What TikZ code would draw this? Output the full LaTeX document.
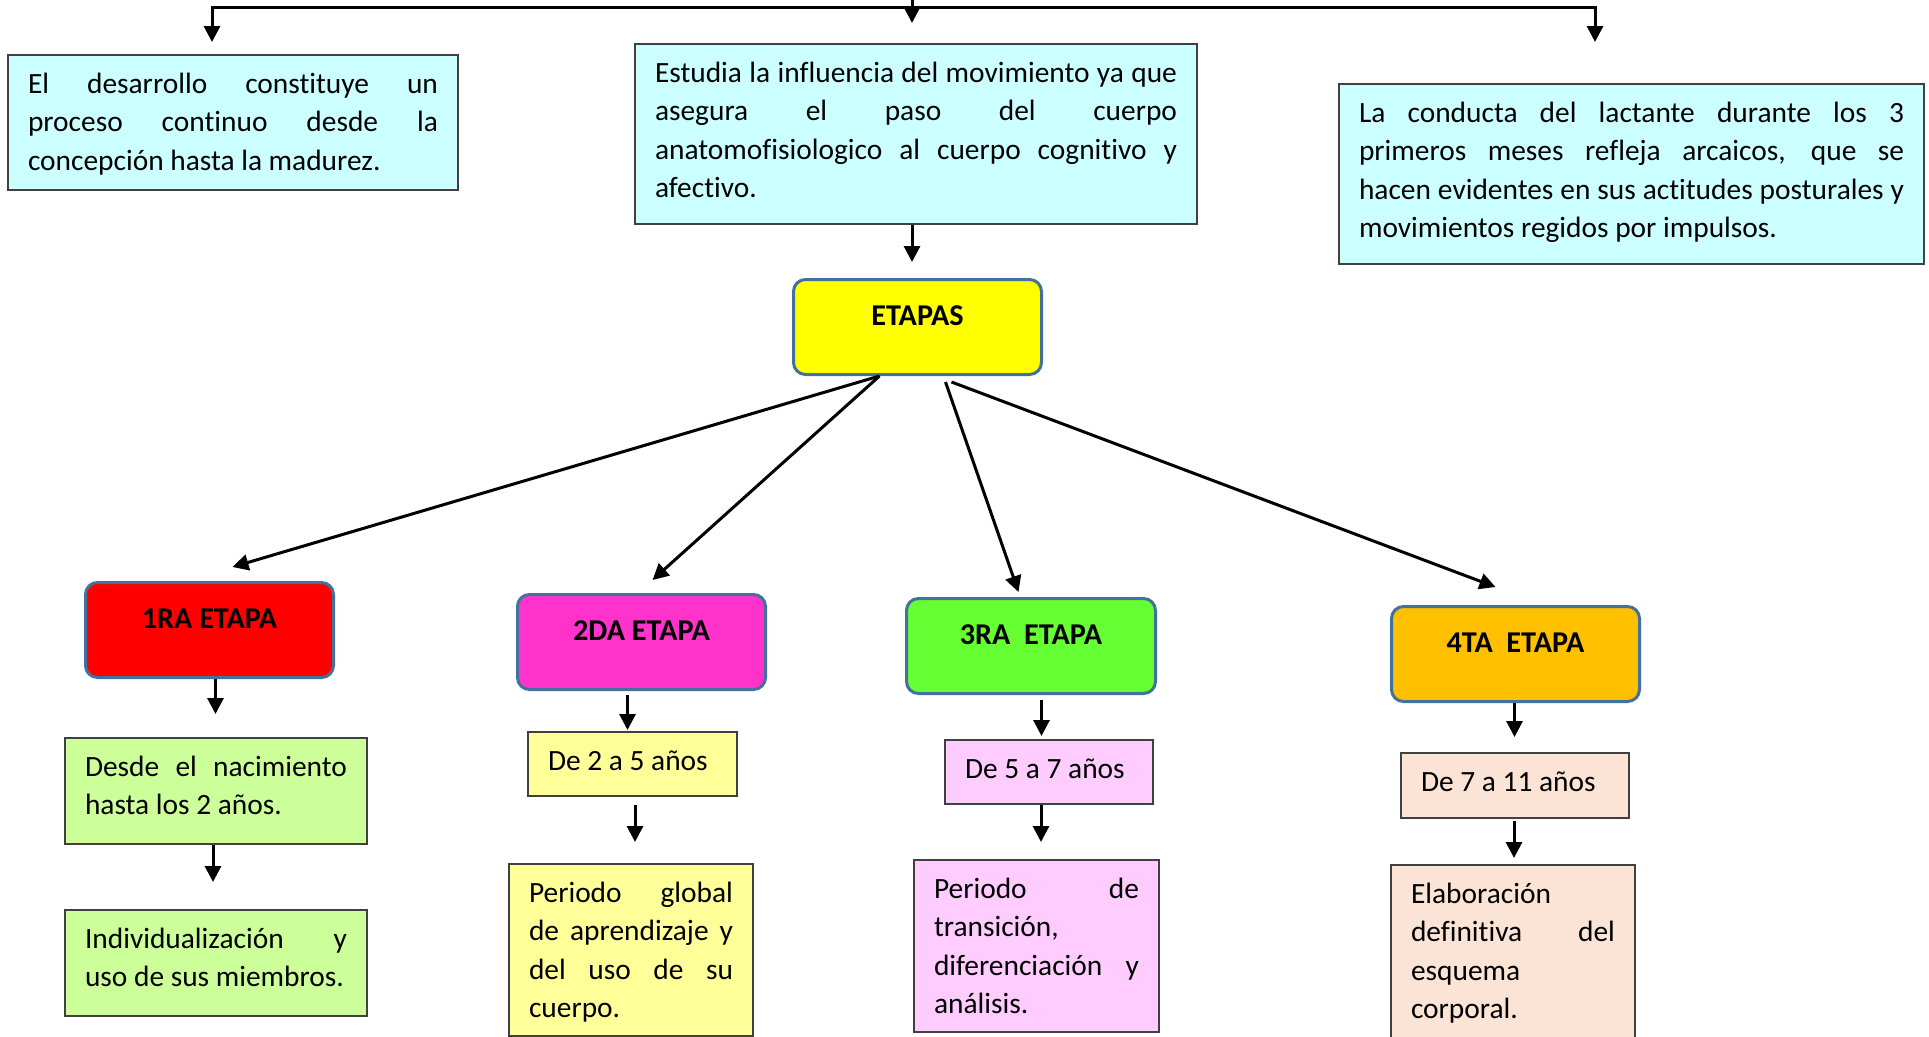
\documentclass[tikz,border=0pt]{standalone}
\usepackage{fontspec}
\setmainfont{Carlito}[Ligatures=NoCommon]
\usetikzlibrary{arrows.meta}
\definecolor{cyanbox}{HTML}{CCFFFF}
\definecolor{boxline}{HTML}{404040}
\definecolor{stageline}{HTML}{41719C}
\definecolor{etyellow}{HTML}{FFFF00}
\definecolor{s1red}{HTML}{FF0000}
\definecolor{s2mag}{HTML}{FF33CC}
\definecolor{s3green}{HTML}{66FF33}
\definecolor{s4orange}{HTML}{FFC000}
\definecolor{r1green}{HTML}{CCFF99}
\definecolor{r2yellow}{HTML}{FFFF99}
\definecolor{r3pink}{HTML}{FFCCFF}
\definecolor{r4peach}{HTML}{FBE4D5}
\newcommand\jl[1]{\makebox[\linewidth][s]{#1}\par}
\newcommand\bx[3]{\parbox[t][#2][t]{#1}{\rule{0pt}{38pt}#3}}
\newcommand\sx[2]{\parbox[t][95pt][t]{#1}{\centering\rule{0pt}{46pt}#2}}
\tikzset{
  conn/.style={line width=3pt, draw=black},
  arr/.style={conn, -{Triangle[length=16pt,width=16pt]}},
  txtbox/.style={draw=boxline, line width=2pt, inner xsep=20pt, inner ysep=0pt,
    anchor=north west, font=\fontsize{29.4}{38.5}\selectfont},
  stagebox/.style={draw=stageline, line width=3pt, rounded corners=12pt,
    inner xsep=20pt, inner ysep=0pt, anchor=north west,
    font=\fontsize{30.2}{38.5}\selectfont\bfseries},
}
\begin{document}
\begin{tikzpicture}[x=1pt,y=1pt]
\useasboundingbox (0,0) rectangle (1929,-1036);
\clip (0,0) rectangle (1929,-1036);
\fill[white] (0,0) rectangle (1929,-1036);

% top text boxes
\node[txtbox, fill=cyanbox] (b1) at (7,-54) {\bx{410pt}{135pt}{%
\jl{El desarrollo constituye un}\jl{proceso continuo desde la}concepción hasta la madurez.}};
\node[txtbox, fill=cyanbox] (b2) at (634,-43) {\bx{522pt}{180pt}{%
\jl{Estudia la influencia del movimiento ya que}\jl{asegura el paso del cuerpo}\jl{anatomofisiologico al cuerpo cognitivo y}afectivo.}};
\node[txtbox, fill=cyanbox] (b3) at (1338,-83) {\bx{545pt}{180pt}{%
\jl{La conducta del lactante durante los 3}\jl{primeros meses refleja arcaicos, que se}\jl{hacen evidentes en sus actitudes posturales y}movimientos regidos por impulsos.}};

% ETAPAS
\node[stagebox, fill=etyellow] (et) at (792,-278) {\sx{208pt}{ETAPAS}};

% stages
\node[stagebox, fill=s1red] (s1) at (84,-581) {\sx{208pt}{1RA ETAPA}};
\node[stagebox, fill=s2mag] (s2) at (516,-593) {\sx{208pt}{2DA ETAPA}};
\node[stagebox, fill=s3green] (s3) at (905,-597) {\sx{209pt}{3RA~~ETAPA}};
\node[stagebox, fill=s4orange] (s4) at (1390,-605) {\sx{208pt}{4TA~~ETAPA}};

% stage details
\node[txtbox, fill=r1green] (r1a) at (64,-737) {\bx{262pt}{106pt}{%
\jl{Desde el nacimiento}hasta los 2 años.}};
\node[txtbox, fill=r1green] (r1b) at (64,-909) {\bx{262pt}{106pt}{%
\jl{Individualización y}uso de sus miembros.}};
\node[txtbox, fill=r2yellow] (r2a) at (527,-731) {\bx{169pt}{64pt}{De 2 a 5 años}};
\node[txtbox, fill=r2yellow] (r2b) at (508,-863) {\bx{204pt}{172pt}{%
\jl{Periodo global}\jl{de aprendizaje y}\jl{del uso de su}cuerpo.}};
\node[txtbox, fill=r3pink] (r3a) at (944,-739) {\bx{168pt}{64pt}{De 5 a 7 años}};
\node[txtbox, fill=r3pink] (r3b) at (913,-859) {\bx{205pt}{172pt}{%
\jl{Periodo de}transición,\par\jl{diferenciación y}análisis.}};
\node[txtbox, fill=r4peach] (r4a) at (1400,-752) {\bx{188pt}{65pt}{De 7 a 11 años}};
\node[txtbox, fill=r4peach] (r4b) at (1390,-864) {\bx{204pt}{200pt}{%
Elaboración\par\jl{definitiva del}esquema\par corporal.}};

% top connectors
\coordinate (tl) at (212,-7);
\coordinate (tr) at (1595,-7);
\coordinate (tc) at (912,5);
\draw[arr, line cap=rect, shorten >=12pt] (tr) -- (tl) -- (tl |- b1.north);
\draw[arr, shorten >=41pt] (tr) -- (tr |- b3.north);
\draw[arr, shorten >=20pt] (tc) -- (tc |- b2.north);
\draw[arr, shorten >=16pt] (b2.south -| tc) -- (tc |- et.north);

% ETAPAS to stages
\draw[arr] ([xshift=-38pt]et.south) -- ([xshift=23pt,yshift=14pt]s1.north);
\draw[arr] ([xshift=-38pt]et.south) -- ([xshift=11pt,yshift=13pt]s2.north);
\draw[arr] ([xshift=28pt,yshift=-6pt]et.south) -- ([xshift=-12.5pt,yshift=5pt]s3.north);
\draw[arr] ([xshift=34pt,yshift=-6pt]et.south) -- ([xshift=-20pt,yshift=18pt]s4.north);

% vertical connectors
\coordinate (p1) at ([xshift=6pt]s1.south);
\coordinate (p2) at ([xshift=-3pt]r1a.south);
\coordinate (p3) at ([xshift=-14pt]s2.south);
\coordinate (p4) at ([xshift=2.5pt]r2a.south);
\coordinate (p5) at ([xshift=10.5pt]s3.south);
\coordinate (p6) at ([xshift=-8pt]r3a.south);
\coordinate (p7) at ([xshift=-1pt]s4.south);
\coordinate (p8) at ([xshift=-1pt]r4a.south);
\draw[arr, shorten >=23pt] (p1) -- (p1 |- r1a.north);
\draw[arr, shorten >=27pt] (p2) -- (p2 |- r1b.north);
\draw[arr, shorten <=4pt, shorten >=1pt] (p3) -- (p3 |- r2a.north);
\draw[arr, shorten <=8pt, shorten >=21pt] (p4) -- (p4 |- r2b.north);
\draw[arr, shorten <=5pt, shorten >=3pt] (p5) -- (p5 |- r3a.north);
\draw[arr, shorten >=17pt] (p6) -- (p6 |- r3b.north);
\draw[arr, shorten >=15pt] (p7) -- (p7 |- r4a.north);
\draw[arr, shorten <=2pt, shorten >=6pt] (p8) -- (p8 |- r4b.north);
\end{tikzpicture}
\end{document}
